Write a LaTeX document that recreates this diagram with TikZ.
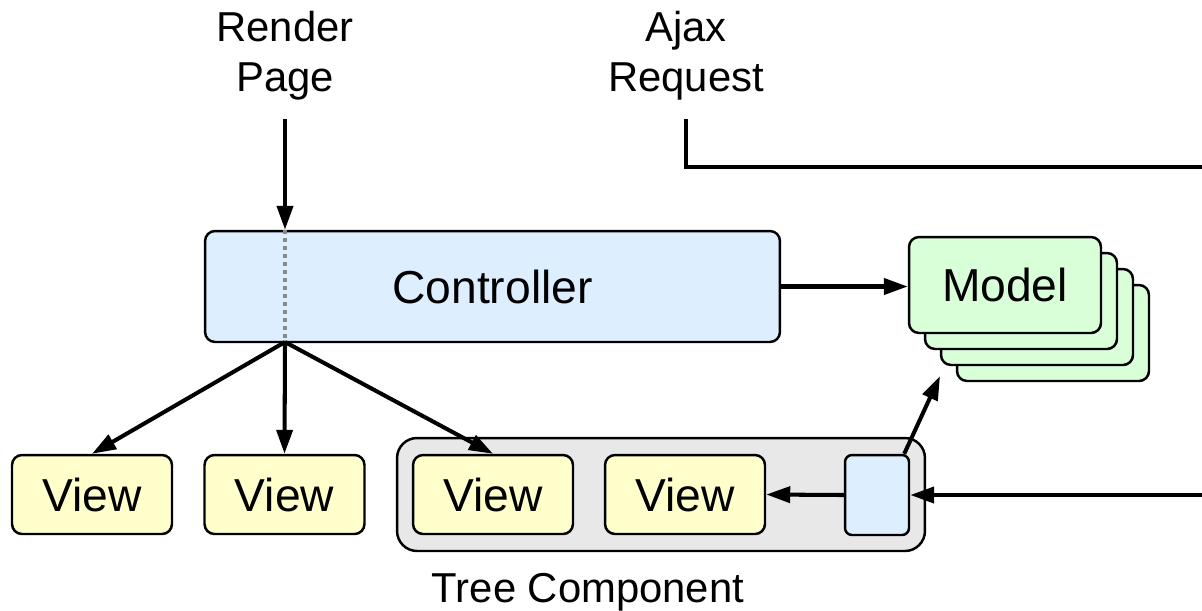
\documentclass[tikz,border=0pt]{standalone}
\usepackage{fontspec}
\setmainfont{Liberation Sans}
\usetikzlibrary{arrows.meta}
\definecolor{ctrlblue}{HTML}{DDEEFF}
\definecolor{modelgreen}{HTML}{D9FFD9}
\definecolor{viewyellow}{HTML}{FFFFCC}
\definecolor{treegray}{HTML}{E8E8E8}
\definecolor{splitgray}{HTML}{888888}

\begin{document}
\begin{tikzpicture}[x=0.02cm, y=-0.02cm,
    box/.style={draw, line width=1.4pt, rounded corners=0.2cm, inner sep=0pt,
        font=\fontsize{26.3}{30}\selectfont},
    viewbox/.style={box, fill=viewyellow, minimum width=3.2cm, minimum height=1.58cm},
    modelbox/.style={box, fill=modelgreen, minimum width=3.84cm, minimum height=1.92cm},
    caption/.style={align=center, inner sep=0pt, font=\fontsize{23.8}{28.4}\selectfont},
    arr/.style={line width=2.3pt, -{Triangle[length=0.48cm, width=0.32cm]}}]
    \useasboundingbox (0, 0) rectangle (1202, 610);

    % tree component frame
    \node [draw, line width=1.4pt, rounded corners=0.4cm, fill=treegray,
        minimum width=10.56cm, minimum height=2.26cm] (tree) at (661, 494.5) {};
    \node [caption, anchor=base] (treename) at (588, 602) {Tree Component};

    % controller and model stack
    \node [box, fill=ctrlblue, minimum width=11.5cm, minimum height=2.22cm] (ctrl) at (492.5, 286.5) {Controller};
    \node [modelbox] (model4) at (1053, 333) {};
    \node [modelbox] (model3) at (1037, 317) {};
    \node [modelbox] (model2) at (1021, 301) {};
    \node [modelbox] (model) at (1005, 285) {Model};

    % views
    \node [viewbox] (view1) at (92, 494.5) {View};
    \node [viewbox] (view2) at (284.5, 494.5) {View};
    \node [viewbox] (view3) at (493, 494.5) {View};
    \node [viewbox] (view4) at (685, 494.5) {View};
    \node [box, fill=ctrlblue, minimum width=1.28cm, minimum height=1.6cm, rounded corners=0.14cm] (hub) at (877, 495) {};

    % entry points
    \node [caption] (render) at (285, 56) {Render\\Page};
    \node [caption] (ajax) at (686, 56) {Ajax\\Request};
    \coordinate (renderTop) at (285, 119);
    \coordinate (ajaxTop) at (686, 119);
    \coordinate (ajaxOut) at (1202, 167);
    \coordinate (ajaxIn) at (1202, 495);
    \coordinate (split) at (285, 342);
    \coordinate (modelIn) at (940, 376);

    \draw [arr] (renderTop) -- (renderTop |- ctrl.north);
    \draw [splitgray, line width=2.2pt, dash pattern=on 0.08cm off 0.08cm] (renderTop |- ctrl.north) -- (split);
    \draw [line width=2.3pt] (ajaxTop) |- (ajaxOut);
    \draw [arr] (ctrl.east) -- (ctrl.east -| model.west);
    \draw [arr] (split) -- (view1.north);
    \draw [arr] (split) -- (view2.north);
    \draw [arr] (split) -- (view3.north);
    \draw [arr] (hub.west) -- (view4.east);
    \draw [arr] (ajaxIn) -- (hub.east);
    \draw [arr] ([xshift=-0.12cm]hub.north east) -- (modelIn);
\end{tikzpicture}
\end{document}
